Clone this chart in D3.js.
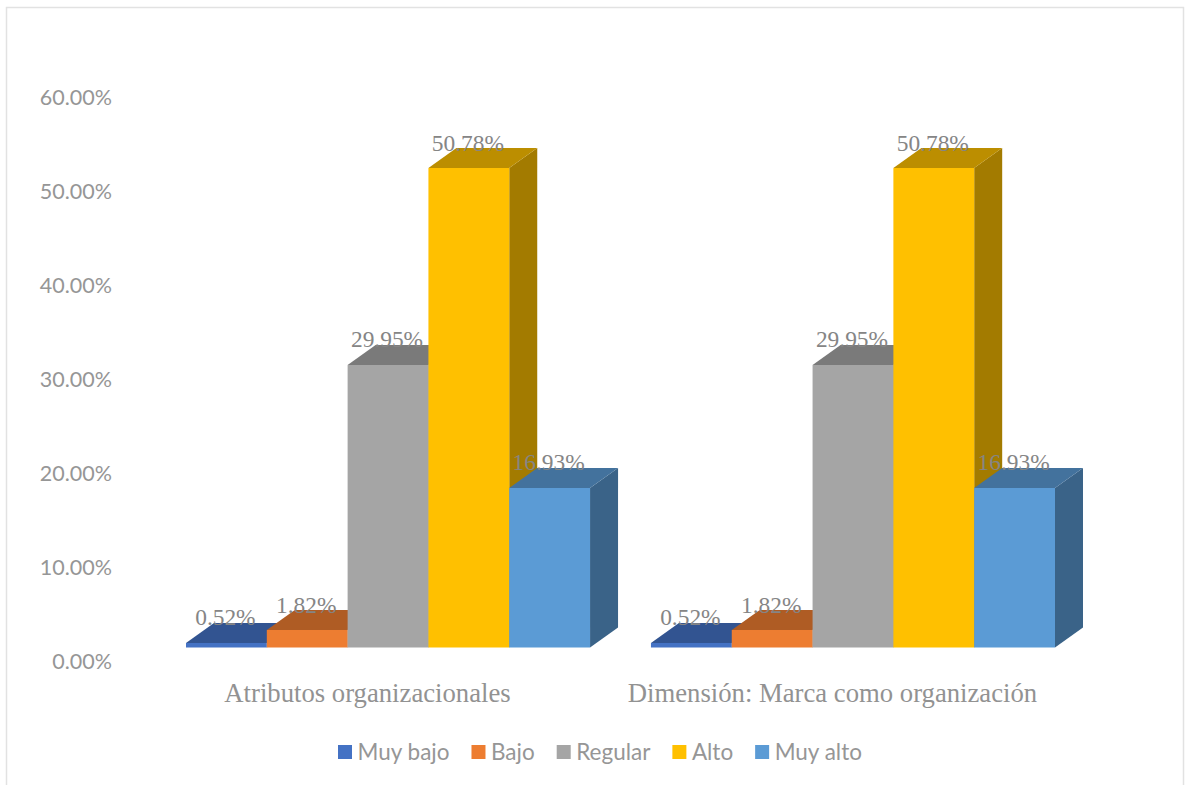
<!DOCTYPE html>
<html>
<head>
<meta charset="utf-8">
<script src="https://cdn.jsdelivr.net/npm/d3@7/dist/d3.min.js"></script>
<style>
html,body{margin:0;padding:0;background:#fff}
svg{display:block}
</style>
</head>
<body>
<svg id="c" width="1185" height="785"></svg>
<script>
const categories = ["Atributos organizacionales", "Dimensión: Marca como organización"];
const seriesNames = ["Muy bajo", "Bajo", "Regular", "Alto", "Muy alto"];
const seriesValues = [0.52, 1.82, 29.95, 50.78, 16.93];
const yTicks = [0, 10, 20, 30, 40, 50, 60];
const colors = ["#4472C4", "#ED7D31", "#A5A5A5", "#FFC000", "#5B9BD5"];

const svg = d3.select("#c");
const depthX = 28, depthY = -20;

svg.append("path")
  .attr("d", "M6.5,785V7.5H1183.5V785")
  .attr("fill", "none").attr("stroke", "#e2e2e2").attr("stroke-width", 1.5);

const yBar = d3.scaleLinear().domain([0, 60]).range([647.5, 81.1]);
const yAxisScale = d3.scaleLinear().domain([0, 60]).range([662, 97.5]);
const x0 = d3.scaleBand().domain(categories).range([186, 1055]).paddingInner(0.131).paddingOuter(0);
const x1 = d3.scaleBand().domain(seriesNames).range([0, x0.bandwidth()]);

const axis = d3.axisLeft(yAxisScale).tickValues(yTicks).tickSize(0).tickPadding(0)
  .tickFormat(d => d3.format(".2f")(d) + "%");
const axisG = svg.append("g").attr("transform", "translate(112,0)").call(axis);
axisG.select(".domain").remove();
axisG.selectAll("text")
  .attr("font-family", "Lato, 'Open Sans', sans-serif")
  .attr("font-size", 21.5)
  .attr("fill", "#969696");

const groups = svg.selectAll("g.cat").data(categories).join("g")
  .attr("class", "cat")
  .attr("transform", d => `translate(${x0(d)},0)`);

groups.each(function () {
  const g = d3.select(this);
  seriesNames.forEach((s, i) => {
    const v = seriesValues[i];
    const l = x1(s), r = l + x1.bandwidth(), t = Math.round(yBar(v)), b = yBar(0);
    const c = d3.color(colors[i]);
    const side = `M${r},${t}L${r + depthX},${t + depthY}L${r + depthX},${b + depthY}L${r},${b}Z`;
    const top = `M${l},${t}L${l + depthX},${t + depthY}L${r + depthX},${t + depthY}L${r},${t}Z`;
    g.append("path").attr("d", side).attr("fill", c.darker(1.25));
    g.append("path").attr("d", top).attr("fill", c.darker(0.85));
    g.append("rect").attr("x", l).attr("y", t).attr("width", r - l).attr("height", b - t).attr("fill", colors[i]);
  });
});

groups.each(function () {
  const g = d3.select(this);
  seriesNames.forEach((s, i) => {
    const v = seriesValues[i];
    g.append("text")
      .attr("x", x1(s) + x1.bandwidth() / 2 - 1)
      .attr("y", yBar(v) - 17.5)
      .attr("text-anchor", "middle")
      .attr("font-family", "'Liberation Serif', serif")
      .attr("font-size", 23.4)
      .attr("fill", "#858585")
      .text(d3.format(".2f")(v) + "%");
  });
});

svg.selectAll("text.catlabel").data(categories).join("text")
  .attr("class", "catlabel")
  .attr("x", d => x0(d) + x0.bandwidth() / 2 - 20.5)
  .attr("y", 702)
  .attr("text-anchor", "middle")
  .attr("font-family", "'Liberation Serif', serif")
  .attr("font-size", 26.7)
  .attr("fill", "#929292")
  .text(d => d);

let lx = 338;
seriesNames.forEach((s, i) => {
  svg.append("rect").attr("x", lx).attr("y", 745).attr("width", 14).attr("height", 14).attr("fill", colors[i]);
  const t = svg.append("text").attr("x", lx + 19.5).attr("y", 759.5)
    .attr("font-family", "Lato, 'Open Sans', sans-serif")
    .attr("font-size", 22.5)
    .attr("fill", "#969696")
    .text(s);
  lx += 19.5 + t.node().getComputedTextLength() + 22;
});
</script>
</body>
</html>
